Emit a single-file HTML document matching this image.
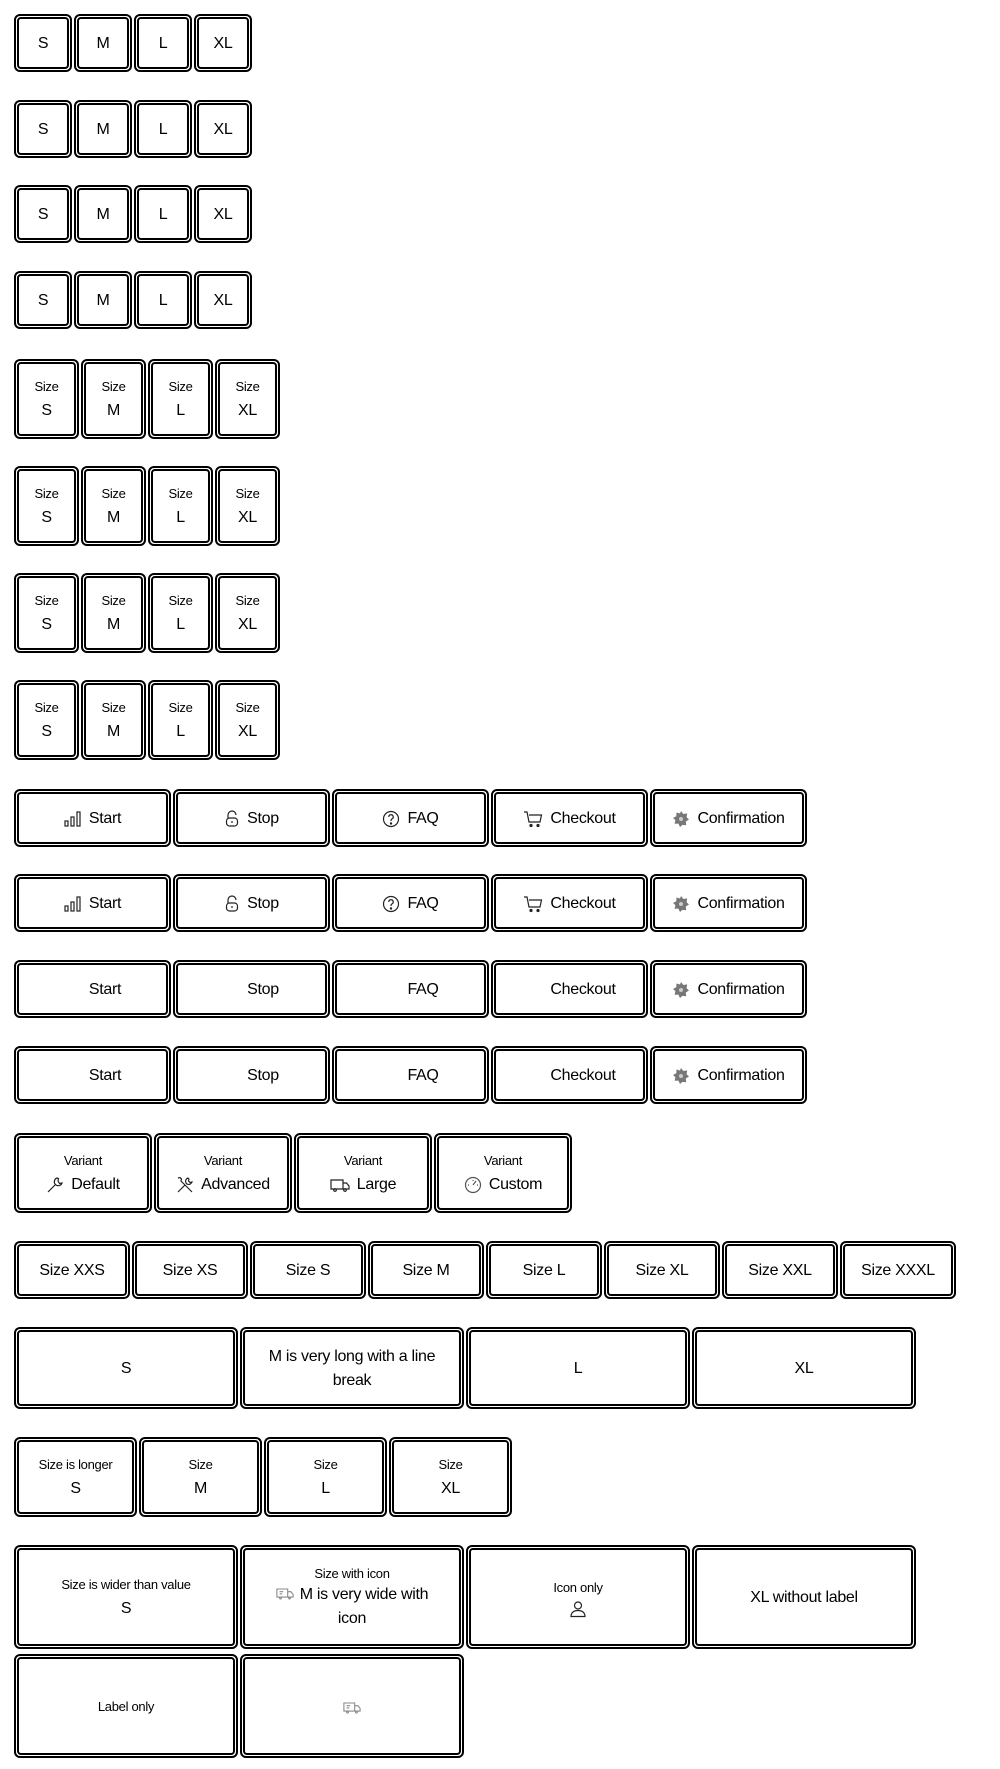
<!DOCTYPE html>
<html><head><meta charset="utf-8"><style>
*{box-sizing:border-box;margin:0;padding:0}
body{width:1000px;height:1769px;background:#fff;position:relative;font-family:"Liberation Sans",sans-serif;color:#000;overflow:hidden;letter-spacing:-0.3px}
.row{position:absolute;left:14px;display:flex;gap:2px}
.b{border:2px solid #000;border-radius:6px;padding:1px;background:#fff}
.i{border:2px solid #000;border-radius:4px;width:100%;height:100%;display:flex;flex-direction:column;align-items:center;justify-content:center;text-align:center;font-size:16px;line-height:24px;padding-top:2px}
.l{font-size:13px;line-height:18px;margin-bottom:3px}
.h{display:flex;align-items:center;gap:7px}
svg{display:block}
</style></head><body>

<div class="row" style="top:14px"><div class="b" style="width:58px;height:58px"><div class="i">S</div></div><div class="b" style="width:58px;height:58px"><div class="i">M</div></div><div class="b" style="width:58px;height:58px"><div class="i">L</div></div><div class="b" style="width:58px;height:58px"><div class="i">XL</div></div></div>
<div class="row" style="top:100px"><div class="b" style="width:58px;height:58px"><div class="i">S</div></div><div class="b" style="width:58px;height:58px"><div class="i">M</div></div><div class="b" style="width:58px;height:58px"><div class="i">L</div></div><div class="b" style="width:58px;height:58px"><div class="i">XL</div></div></div>
<div class="row" style="top:185px"><div class="b" style="width:58px;height:58px"><div class="i">S</div></div><div class="b" style="width:58px;height:58px"><div class="i">M</div></div><div class="b" style="width:58px;height:58px"><div class="i">L</div></div><div class="b" style="width:58px;height:58px"><div class="i">XL</div></div></div>
<div class="row" style="top:271px"><div class="b" style="width:58px;height:58px"><div class="i">S</div></div><div class="b" style="width:58px;height:58px"><div class="i">M</div></div><div class="b" style="width:58px;height:58px"><div class="i">L</div></div><div class="b" style="width:58px;height:58px"><div class="i">XL</div></div></div>

<div class="row" style="top:359px"><div class="b" style="width:65px;height:80px"><div class="i"><div class="l">Size</div>S</div></div><div class="b" style="width:65px;height:80px"><div class="i"><div class="l">Size</div>M</div></div><div class="b" style="width:65px;height:80px"><div class="i"><div class="l">Size</div>L</div></div><div class="b" style="width:65px;height:80px"><div class="i"><div class="l">Size</div>XL</div></div></div>
<div class="row" style="top:466px"><div class="b" style="width:65px;height:80px"><div class="i"><div class="l">Size</div>S</div></div><div class="b" style="width:65px;height:80px"><div class="i"><div class="l">Size</div>M</div></div><div class="b" style="width:65px;height:80px"><div class="i"><div class="l">Size</div>L</div></div><div class="b" style="width:65px;height:80px"><div class="i"><div class="l">Size</div>XL</div></div></div>
<div class="row" style="top:573px"><div class="b" style="width:65px;height:80px"><div class="i"><div class="l">Size</div>S</div></div><div class="b" style="width:65px;height:80px"><div class="i"><div class="l">Size</div>M</div></div><div class="b" style="width:65px;height:80px"><div class="i"><div class="l">Size</div>L</div></div><div class="b" style="width:65px;height:80px"><div class="i"><div class="l">Size</div>XL</div></div></div>
<div class="row" style="top:680px"><div class="b" style="width:65px;height:80px"><div class="i"><div class="l">Size</div>S</div></div><div class="b" style="width:65px;height:80px"><div class="i"><div class="l">Size</div>M</div></div><div class="b" style="width:65px;height:80px"><div class="i"><div class="l">Size</div>L</div></div><div class="b" style="width:65px;height:80px"><div class="i"><div class="l">Size</div>XL</div></div></div>

<div class="row" style="top:789px">
<div class="b" style="width:157px;height:58px"><div class="i"><div class="h"><svg width="18" height="18" viewBox="0 0 18 18" fill="none" stroke="#222" stroke-width="1.2"><rect x="1" y="11" width="3" height="5"/><rect x="7" y="7" width="3" height="9"/><rect x="13" y="2" width="3" height="14"/></svg>Start</div></div></div>
<div class="b" style="width:157px;height:58px"><div class="i"><div class="h"><svg width="16" height="18" viewBox="0 0 16 18" fill="none" stroke="#222" stroke-width="1.2"><path d="M4 8V5a4 4 0 0 1 8 0"/><rect x="2.5" y="8" width="11" height="8" rx="3"/><path d="M8 11v2"/></svg>Stop</div></div></div>
<div class="b" style="width:157px;height:58px"><div class="i"><div class="h"><svg width="18" height="18" viewBox="0 0 18 18" fill="none" stroke="#222" stroke-width="1.2"><circle cx="9" cy="9" r="7.5"/><path d="M6.8 7a2.2 2.2 0 1 1 3 2c-.8.4-.8 1-.8 2"/><circle cx="9" cy="13.5" r=".6" fill="#222"/></svg>FAQ</div></div></div>
<div class="b" style="width:157px;height:58px"><div class="i"><div class="h"><svg width="20" height="18" viewBox="0 0 20 18" fill="none" stroke="#222" stroke-width="1.2"><path d="M1 2h3l2 10h11l1.5-7H6"/><circle cx="8" cy="15.5" r="1" fill="#222"/><circle cx="15" cy="15.5" r="1" fill="#222"/></svg>Checkout</div></div></div>
<div class="b" style="width:157px;height:58px"><div class="i"><div class="h"><svg width="18" height="18" viewBox="0 0 18 18"><path d="M9 1l2.4 3 3.8-.6-.6 3.8L17 9.5l-3.2 2 .4 3.8-3.8-.4L8 17l-1.6-3.4-3.8.2.8-3.7L1 8l3.3-1.8L4.5 2.5 8 3.5z" fill="#777"/><circle cx="9" cy="9" r="2" fill="#ccc"/></svg>Confirmation</div></div></div>
</div>
<div class="row" style="top:874px">
<div class="b" style="width:157px;height:58px"><div class="i"><div class="h"><svg width="18" height="18" viewBox="0 0 18 18" fill="none" stroke="#222" stroke-width="1.2"><rect x="1" y="11" width="3" height="5"/><rect x="7" y="7" width="3" height="9"/><rect x="13" y="2" width="3" height="14"/></svg>Start</div></div></div>
<div class="b" style="width:157px;height:58px"><div class="i"><div class="h"><svg width="16" height="18" viewBox="0 0 16 18" fill="none" stroke="#222" stroke-width="1.2"><path d="M4 8V5a4 4 0 0 1 8 0"/><rect x="2.5" y="8" width="11" height="8" rx="3"/><path d="M8 11v2"/></svg>Stop</div></div></div>
<div class="b" style="width:157px;height:58px"><div class="i"><div class="h"><svg width="18" height="18" viewBox="0 0 18 18" fill="none" stroke="#222" stroke-width="1.2"><circle cx="9" cy="9" r="7.5"/><path d="M6.8 7a2.2 2.2 0 1 1 3 2c-.8.4-.8 1-.8 2"/><circle cx="9" cy="13.5" r=".6" fill="#222"/></svg>FAQ</div></div></div>
<div class="b" style="width:157px;height:58px"><div class="i"><div class="h"><svg width="20" height="18" viewBox="0 0 20 18" fill="none" stroke="#222" stroke-width="1.2"><path d="M1 2h3l2 10h11l1.5-7H6"/><circle cx="8" cy="15.5" r="1" fill="#222"/><circle cx="15" cy="15.5" r="1" fill="#222"/></svg>Checkout</div></div></div>
<div class="b" style="width:157px;height:58px"><div class="i"><div class="h"><svg width="18" height="18" viewBox="0 0 18 18"><path d="M9 1l2.4 3 3.8-.6-.6 3.8L17 9.5l-3.2 2 .4 3.8-3.8-.4L8 17l-1.6-3.4-3.8.2.8-3.7L1 8l3.3-1.8L4.5 2.5 8 3.5z" fill="#777"/><circle cx="9" cy="9" r="2" fill="#ccc"/></svg>Confirmation</div></div></div>
</div>
<div class="row" style="top:960px">
<div class="b" style="width:157px;height:58px"><div class="i"><div class="h"><span style="width:18px"></span>Start</div></div></div>
<div class="b" style="width:157px;height:58px"><div class="i"><div class="h"><span style="width:16px"></span>Stop</div></div></div>
<div class="b" style="width:157px;height:58px"><div class="i"><div class="h"><span style="width:18px"></span>FAQ</div></div></div>
<div class="b" style="width:157px;height:58px"><div class="i"><div class="h"><span style="width:20px"></span>Checkout</div></div></div>
<div class="b" style="width:157px;height:58px"><div class="i"><div class="h"><svg width="18" height="18" viewBox="0 0 18 18"><path d="M9 1l2.4 3 3.8-.6-.6 3.8L17 9.5l-3.2 2 .4 3.8-3.8-.4L8 17l-1.6-3.4-3.8.2.8-3.7L1 8l3.3-1.8L4.5 2.5 8 3.5z" fill="#777"/><circle cx="9" cy="9" r="2" fill="#ccc"/></svg>Confirmation</div></div></div>
</div>
<div class="row" style="top:1046px">
<div class="b" style="width:157px;height:58px"><div class="i"><div class="h"><span style="width:18px"></span>Start</div></div></div>
<div class="b" style="width:157px;height:58px"><div class="i"><div class="h"><span style="width:16px"></span>Stop</div></div></div>
<div class="b" style="width:157px;height:58px"><div class="i"><div class="h"><span style="width:18px"></span>FAQ</div></div></div>
<div class="b" style="width:157px;height:58px"><div class="i"><div class="h"><span style="width:20px"></span>Checkout</div></div></div>
<div class="b" style="width:157px;height:58px"><div class="i"><div class="h"><svg width="18" height="18" viewBox="0 0 18 18"><path d="M9 1l2.4 3 3.8-.6-.6 3.8L17 9.5l-3.2 2 .4 3.8-3.8-.4L8 17l-1.6-3.4-3.8.2.8-3.7L1 8l3.3-1.8L4.5 2.5 8 3.5z" fill="#777"/><circle cx="9" cy="9" r="2" fill="#ccc"/></svg>Confirmation</div></div></div>
</div>

<div class="row" style="top:1133px">
<div class="b" style="width:138px;height:80px"><div class="i"><div class="l">Variant</div><div class="h"><svg width="18" height="18" viewBox="0 0 18 18" fill="none" stroke="#222" stroke-width="1.2"><path d="M2 16l7-7M11 2a4 4 0 0 0-2 6l1 1a4 4 0 0 0 6-2l-2.5.5L12 5l.5-2.5z"/></svg>Default</div></div></div>
<div class="b" style="width:138px;height:80px"><div class="i"><div class="l">Variant</div><div class="h"><svg width="18" height="18" viewBox="0 0 18 18" fill="none" stroke="#222" stroke-width="1.2"><path d="M2 16l7-7M12 2a3.5 3.5 0 0 0-2 5l1 1a3.5 3.5 0 0 0 5-2l-2 .5L12.5 5l.5-2zM2 2l2-0.5 1.5 1.5-.5 2 11 11"/></svg>Advanced</div></div></div>
<div class="b" style="width:138px;height:80px"><div class="i"><div class="l">Variant</div><div class="h"><svg width="20" height="16" viewBox="0 0 20 16" fill="none" stroke="#222" stroke-width="1.2"><path d="M1 3h12v9H1zM13 6h3.5l2.5 3v3h-6"/><circle cx="5" cy="13" r="1.3"/><circle cx="15" cy="13" r="1.3"/></svg>Large</div></div></div>
<div class="b" style="width:138px;height:80px"><div class="i"><div class="l">Variant</div><div class="h"><svg width="18" height="18" viewBox="0 0 18 18" fill="none" stroke="#555" stroke-width="1.2"><circle cx="9" cy="9" r="7.5"/><path d="M9 9l3-4" /><path d="M4 9h1M13 9h1M9 4v1" /></svg>Custom</div></div></div>
</div>

<div class="row" style="top:1241px">
<div class="b" style="width:116px;height:58px"><div class="i">Size XXS</div></div>
<div class="b" style="width:116px;height:58px"><div class="i">Size XS</div></div>
<div class="b" style="width:116px;height:58px"><div class="i">Size S</div></div>
<div class="b" style="width:116px;height:58px"><div class="i">Size M</div></div>
<div class="b" style="width:116px;height:58px"><div class="i">Size L</div></div>
<div class="b" style="width:116px;height:58px"><div class="i">Size XL</div></div>
<div class="b" style="width:116px;height:58px"><div class="i">Size XXL</div></div>
<div class="b" style="width:116px;height:58px"><div class="i">Size XXXL</div></div>
</div>

<div class="row" style="top:1327px">
<div class="b" style="width:224px;height:82px"><div class="i">S</div></div>
<div class="b" style="width:224px;height:82px"><div class="i" style="padding:2px 10px 0">M is very long with a line break</div></div>
<div class="b" style="width:224px;height:82px"><div class="i">L</div></div>
<div class="b" style="width:224px;height:82px"><div class="i">XL</div></div>
</div>

<div class="row" style="top:1437px">
<div class="b" style="width:123px;height:80px"><div class="i"><div class="l">Size is longer</div>S</div></div>
<div class="b" style="width:123px;height:80px"><div class="i"><div class="l">Size</div>M</div></div>
<div class="b" style="width:123px;height:80px"><div class="i"><div class="l">Size</div>L</div></div>
<div class="b" style="width:123px;height:80px"><div class="i"><div class="l">Size</div>XL</div></div>
</div>

<div class="row" style="top:1545px;flex-wrap:wrap;width:960px">
<div class="b" style="width:224px;height:104px"><div class="i"><div class="l">Size is wider than value</div>S</div></div>
<div class="b" style="width:224px;height:104px"><div class="i" style="padding:2px 18px 0"><div class="l" style="margin-bottom:0">Size with icon</div><div><svg style="display:inline-block;vertical-align:-1px;margin-right:6px" width="18" height="13" viewBox="0 0 20 14" fill="none" stroke="#888" stroke-width="1.2"><path d="M1 2h12v9H1zM13 5h3.5l2.5 3v3h-6M4 5h4M4 7.5h3"/><circle cx="5" cy="12" r="1"/><circle cx="15" cy="12" r="1"/></svg>M is very wide with icon</div></div></div>
<div class="b" style="width:224px;height:104px"><div class="i"><div class="l">Icon only</div><svg width="18" height="18" viewBox="0 0 18 18" fill="none" stroke="#222" stroke-width="1.2"><circle cx="9" cy="5.5" r="3.5"/><path d="M2 16.5c0-4 3-6 7-6s7 2 7 6z"/></svg></div></div>
<div class="b" style="width:224px;height:104px"><div class="i">XL without label</div></div>
<div class="b" style="width:224px;height:104px;margin-top:3px"><div class="i"><div class="l" style="margin:0">Label only</div></div></div>
<div class="b" style="width:224px;height:104px;margin-top:3px"><div class="i"><svg width="18" height="13" viewBox="0 0 20 14" fill="none" stroke="#888" stroke-width="1.2"><path d="M1 2h12v9H1zM13 5h3.5l2.5 3v3h-6M4 5h4M4 7.5h3"/><circle cx="5" cy="12" r="1"/><circle cx="15" cy="12" r="1"/></svg></div></div>
</div>

</body></html>
